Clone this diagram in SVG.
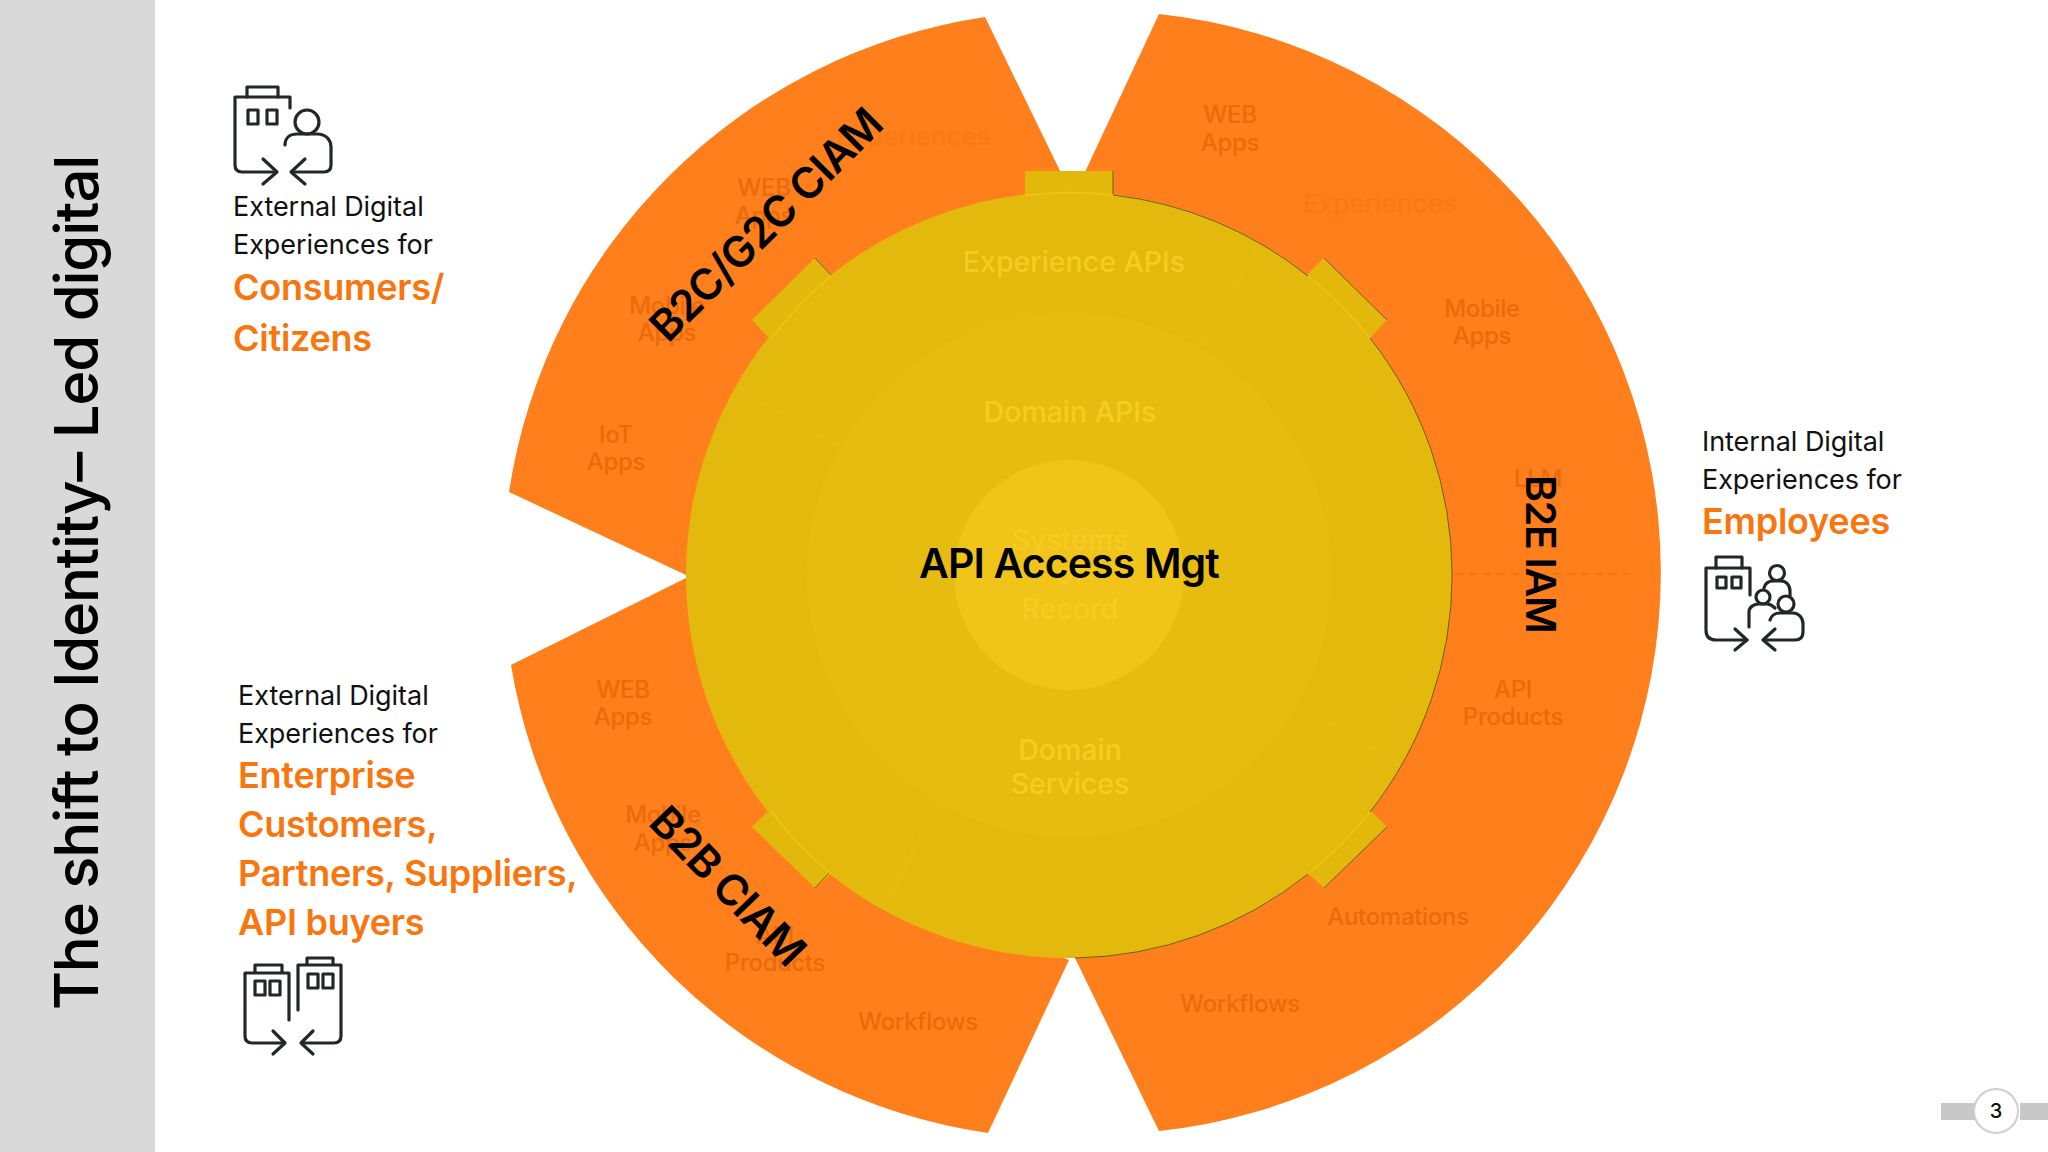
<svg xmlns="http://www.w3.org/2000/svg" width="2048" height="1152" viewBox="0 0 2048 1152">
<style>
text{font-family:Inter,"Liberation Sans",sans-serif}
.f{fill:#ea6a0c;font-size:24px;font-weight:500;text-anchor:middle;letter-spacing:-.3px}
.g{fill:#fb7a10;font-size:26px;font-weight:500;text-anchor:middle}
.y{fill:#f4cc23;font-size:28.5px;font-weight:500;text-anchor:middle}
.b{fill:#000;font-size:41px;font-weight:600;letter-spacing:-1.3px}
.b2{fill:#000;font-size:43px;font-weight:600;letter-spacing:-1px}
.k{fill:#111;font-size:27px;letter-spacing:-.05px}
.o{fill:#f9760f;font-size:36px;font-weight:600;letter-spacing:-.25px}
.i{fill:none;stroke:#23272b;stroke-width:3.2;stroke-linejoin:round;stroke-linecap:round}
.t{fill:#e3b80c}
.e{fill:#fe7f1b}
.d{fill:none;stroke:#6f5f10;stroke-width:1}
.h{fill:none;stroke:#efc412;stroke-width:1.5}
</style>
<rect width="2048" height="1152" fill="#fff"/>
<rect id="band" width="155" height="1152" fill="#d9d9d9"/>
<text id="title" transform="translate(98 1010) rotate(-90)" style="font-size:60px;font-weight:500;letter-spacing:-1.3px" fill="#000">The shift to Identity– Led digital</text>
<g id="sector-b2c">
<path class="e" d="M509 492A566 566 0 0 1 985 17L1062 175L1069 190L800 300L686 575Z"/>
</g>
<g id="sector-b2b">
<path class="e" d="M511 665A566 566 0 0 0 988 1133L1069 960L800 850L686 578Z"/>
</g>
<g id="sector-b2e">
<path class="e" d="M1159 14A561.7 561.7 0 0 1 1159 1131L1075 958L1069 950V195L1085 172Z"/>
<path d="M1455 574H1630" stroke="#ea6a0c" stroke-width="1.5" stroke-dasharray="8 6" fill="none" opacity=".7"/>
</g>
<g id="labels-orange">
<text class="g" x="914" y="146">Experiences</text>
<text class="f" x="764" y="196">WEB</text><text class="f" x="764" y="224">Apps</text>
<text class="f" x="667" y="314">Mobile</text><text class="f" x="667" y="341">Apps</text>
<text class="f" x="616" y="443">IoT</text><text class="f" x="616" y="470">Apps</text>
<text class="f" x="1230" y="123">WEB</text><text class="f" x="1230" y="151">Apps</text>
<text class="g" x="1380" y="213">Experiences</text>
<text class="f" x="1482" y="317">Mobile</text><text class="f" x="1482" y="344">Apps</text>
<text class="f" x="1538" y="487">LLM</text>
<text class="f" x="1513" y="698">API</text><text class="f" x="1513" y="725">Products</text>
<text class="f" x="1398" y="925">Automations</text>
<text class="f" x="1240" y="1012">Workflows</text>
<text class="f" x="623" y="698">WEB</text><text class="f" x="623" y="725">Apps</text>
<text class="f" x="663" y="823">Mobile</text><text class="f" x="663" y="851">Apps</text>
<text class="f" x="775" y="944">API</text><text class="f" x="775" y="971">Products</text>
<text class="f" x="918" y="1030">Workflows</text>
</g>
<g id="tabs">
<path class="t" d="M1025 171H1113V200H1025Z"/>
<path class="t" d="M815 258L752 320L771 340L835 278Z"/>
<path class="t" d="M1324 258L1387 320L1368 340L1304 278Z"/>
<path class="t" d="M771 808L752 827L815 888L835 870Z"/>
<path class="t" d="M1368 808L1387 827L1324 888L1304 870Z"/>
<path class="d" d="M1113 171V195M815 258L831 275M1324 258L1387 320M830 872L815 888M1387 827L1324 888"/>
</g>
<g id="core">
<circle cx="1069" cy="575" r="383" fill="#e4b90d"/>
<path class="d" d="M1113 195A383 383 0 0 1 1308 276M1370 338A383 383 0 0 1 1370 812M1308 874A383 383 0 0 1 1075 958"/>
<path class="h" d="M1025 195A383 383 0 0 1 1113 195M771 339A383 383 0 0 1 831 276M1308 276A383 383 0 0 1 1370 338M771 811A383 383 0 0 0 831 874M1308 874A383 383 0 0 0 1370 812"/>
<path d="M1258 247L1200 346M739 389L845 450M1300 705L1399 764M937 803L888 900" stroke="#e6bb10" stroke-width="5" fill="none"/>
<path d="M950 315L1030 298L1040 335L960 350ZM1320 454L1348 450L1350 530L1325 530ZM795 618L812 618L812 695L798 695ZM930 805L975 830L960 850L920 830Z" fill="#e5ba0e"/>
<circle cx="1069" cy="575" r="262" fill="#e6bc11"/>
<circle cx="1069" cy="575" r="115" fill="#f0c419"/>
<text class="y" x="1074" y="272">Experience APIs</text>
<text class="y" x="1070" y="422">Domain APIs</text>
<text class="y" x="1070" y="550">Systems</text>
<text class="y" x="1070" y="584">of</text>
<text class="y" x="1070" y="619">Record</text>
<text class="y" x="1070" y="760">Domain</text>
<text class="y" x="1070" y="794">Services</text>
<text x="1069" y="578" text-anchor="middle" style="font-size:41px;font-weight:600;letter-spacing:-.9px" fill="#000">API Access Mgt</text>
</g>
<text id="lbl-b2c" class="b2" transform="translate(668 344) rotate(-45)">B2C/G2C CIAM</text>
<text id="lbl-b2b" class="b2" transform="translate(647 824) rotate(46)">B2B CIAM</text>
<text id="lbl-b2e" class="b" transform="translate(1526 475) rotate(90)">B2E IAM</text>
<g id="note-consumers">
<text class="k" x="233" y="216">External Digital</text>
<text class="k" x="233" y="254">Experiences for</text>
<text class="o" x="233" y="300">Consumers/</text>
<text class="o" x="233" y="351">Citizens</text>
<g class="i" transform="translate(235 87)">
<path d="M12 10V0H43V10"/><path d="M55 21V10H0V78Q0 85 7 85H38"/><path d="M28 72L42 85L28 97M70 72L56 85L70 97"/>
<rect x="13" y="23" width="10" height="14"/><rect x="32" y="23" width="10" height="14"/>
<circle cx="72" cy="35" r="12"/><path d="M50 58C50 50 56 47 62 47H82C92 47 96 54 96 60V78Q96 85 89 85H58"/>
</g>
</g>
<g id="note-enterprise">
<text class="k" x="238" y="705">External Digital</text>
<text class="k" x="238" y="743">Experiences for</text>
<text class="o" x="238" y="788">Enterprise</text>
<text class="o" x="238" y="837">Customers,</text>
<text class="o" x="238" y="886">Partners, Suppliers,</text>
<text class="o" x="238" y="935">API buyers</text>
<g class="i" transform="translate(245 958)">
<path d="M10 15V7H37V15M0 15H44V62M0 15V78Q0 85 7 85H38"/><path d="M28 73L40 85L28 96"/>
<rect x="10" y="23" width="10" height="14"/><rect x="25" y="23" width="10" height="14"/>
<path d="M62 7V0H88V7M53 7H96V78Q96 85 89 85H58M53 7V52"/><path d="M68 73L56 85L68 96"/>
<rect x="63" y="16" width="10" height="14"/><rect x="78" y="16" width="10" height="14"/>
</g>
</g>
<g id="note-employees">
<text class="k" x="1702" y="451">Internal Digital</text>
<text class="k" x="1702" y="489">Experiences for</text>
<text class="o" x="1702" y="534">Employees</text>
<g class="i" transform="translate(1707 558)">
<path d="M-1 10H43V37M-1 10V72Q-1 82 9 82H40"/><path d="M28 71L40 82L28 92"/><path d="M9 10V-1H35V10"/>
<rect x="10" y="19" width="9" height="11"/><rect x="25" y="19" width="9" height="11"/>
<circle cx="70" cy="15" r="7.5"/><path d="M57 30C58 25 62 23 67 23H74C79 23 83 27 83 33V39"/>
<circle cx="56" cy="39" r="7"/><path d="M42 69V54C42 49 47 46 52 46H60C63 46 66 48 68 50"/>
<circle cx="79" cy="46" r="8"/><path d="M63 62C64 58 68 55 73 55H86C92 55 96 60 96 66V74Q96 82 88 82H58"/><path d="M68 71L56 82L68 92"/>
</g>
</g>
<g id="page">
<path d="M1941 1103H1978V1120H1941ZM2020 1103H2048V1120H2020Z" fill="#c8c8c8"/>
<circle cx="1996" cy="1111" r="22" fill="#fff" stroke="#cfcfcf" stroke-width="2"/>
<text x="1996" y="1118" text-anchor="middle" style="font-size:20px;font-weight:500" fill="#111">3</text>
</g>
</svg>
